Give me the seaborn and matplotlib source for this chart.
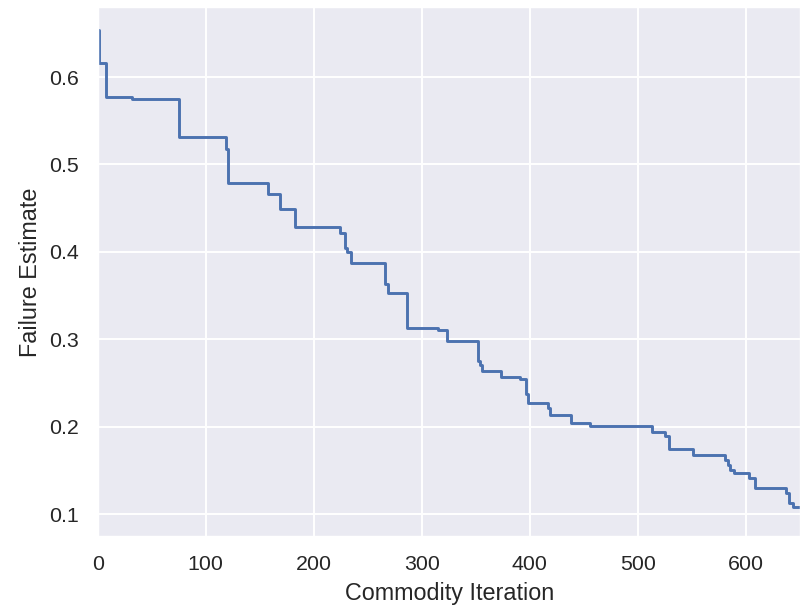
import numpy as np
import pandas as pd
import matplotlib
matplotlib.use("Agg")
import matplotlib.pyplot as plt
import seaborn as sns

# Step change points (iteration where the estimate changes) and the new estimate
iterations = [0, 1, 8, 32, 75, 119, 121, 158, 169, 183, 224, 229, 231, 234,
              266, 269, 286, 315, 323, 352, 354, 356, 373, 391, 396, 398,
              417, 419, 438, 456, 513, 525, 529, 551, 581, 583, 585, 589,
              603, 608, 637, 640, 644, 651]
estimates = [0.654, 0.616, 0.5775, 0.5745, 0.5314, 0.518, 0.479, 0.4659, 0.4491,
             0.4288, 0.4213, 0.405, 0.4003, 0.387, 0.363, 0.3534, 0.3127, 0.3107,
             0.2981, 0.275, 0.2707, 0.2638, 0.2573, 0.2547, 0.2372, 0.2276,
             0.2212, 0.2140, 0.2045, 0.2013, 0.1937, 0.1895, 0.175, 0.1675,
             0.162, 0.156, 0.1502, 0.1469, 0.1410, 0.1298, 0.1247, 0.1126,
             0.1080, 0.1080]

x_label = "Commodity Iteration"
y_label = "Failure Estimate"

sns.set_theme(style="darkgrid")
plt.rcParams['font.family'] = ['Liberation Sans', 'DejaVu Sans']

df = pd.DataFrame({"iteration": iterations, "estimate": estimates})

fig = plt.figure(figsize=(801 / 140, 614 / 140), dpi=140)
ax = fig.add_axes([0.122, 0.126, 0.878, 0.8625])
sns.lineplot(data=df, x="iteration", y="estimate", estimator=None,
             drawstyle="steps-post", ax=ax, color="#4c72b0")
ax.set_xlim(0, 651)
ax.set_ylim(0.0744, 0.680)
ax.set_xlabel(x_label)
ax.set_ylabel(y_label)

fig.savefig("out.png", dpi=140)
